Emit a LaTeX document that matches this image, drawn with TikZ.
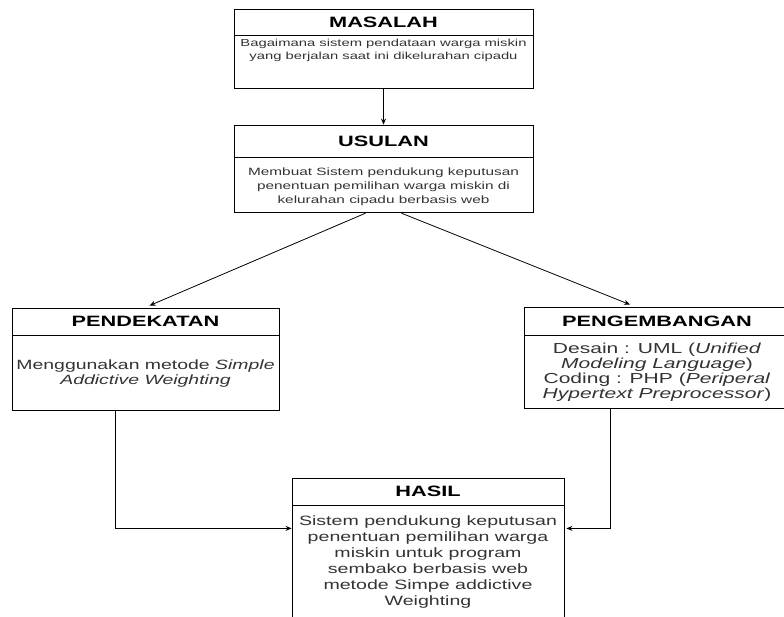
\documentclass[tikz,border=0pt]{standalone}
\usepackage{fontspec}
\setmainfont{Liberation Sans}[FakeStretch=1.45]
\usetikzlibrary{positioning,calc,arrows.meta}

\tikzset{
	head/.style={draw, inner sep=0pt, font=\bfseries\fontsize{15}{17}\selectfont},
	frame/.style={draw, inner sep=0pt},
	txt/.style={align=center, inner sep=0pt, text=black!80},
}

\begin{document}
\begin{tikzpicture}[x=1pt, y=-1pt, line width=0.8pt, >={Stealth[length=6pt, width=5pt]}]
	\useasboundingbox (0,0) rectangle (784,617);

	% masalah
	\node[head, minimum width=299, minimum height=26] (masalahHead) at (383.5, 22) {MASALAH};
	\node[frame, minimum width=299, minimum height=53, below=0pt of masalahHead] (masalah) {};
	\node[txt, font=\fontsize{10.2}{13}\selectfont, below=3pt of masalahHead] (masalahText) {Bagaimana sistem pendataan warga miskin\\yang berjalan saat ini dikelurahan cipadu};

	% usulan
	\node[head, minimum width=299, minimum height=32] (usulanHead) at (383.5, 141) {USULAN};
	\node[frame, minimum width=299, minimum height=55, below=0pt of usulanHead] (usulan) {};
	\node[txt, font=\fontsize{10.6}{14}\selectfont, below=10pt of usulanHead] (usulanText) {Membuat Sistem pendukung keputusan\\penentuan pemilihan warga miskin di\\kelurahan cipadu berbasis web};

	% pendekatan
	\node[head, minimum width=267, minimum height=27] (pendekatanHead) at (145.5, 321.5) {PENDEKATAN};
	\node[frame, minimum width=267, minimum height=75, below=0pt of pendekatanHead] (pendekatan) {};
	\node[txt, font=\fontsize{13.4}{15}\selectfont] (pendekatanText) at (pendekatan) {Menggunakan metode \textit{Simple}\\\textit{Addictive Weighting}};

	% pengembangan
	\node[head, minimum width=266, minimum height=28] (pengembanganHead) at (657, 321) {PENGEMBANGAN};
	\node[frame, minimum width=266, minimum height=73, below=0pt of pengembanganHead] (pengembangan) {};
	\node[txt, font=\fontsize{14.5}{15}\selectfont] (pengembanganText) at (pengembangan) {Desain : UML (\textit{Unified}\\\textit{Modeling Language})\\Coding : PHP (\textit{Periperal}\\\textit{Hypertext Preprocessor})};

	% hasil
	\node[head, minimum width=272, minimum height=27] (hasilHead) at (428, 491.5) {HASIL};
	\node[frame, minimum width=272, minimum height=135, below=0pt of hasilHead] (hasil) {};
	\node[txt, font=\fontsize{13.5}{16}\selectfont, below=10pt of hasilHead] (hasilText) {Sistem pendukung keputusan\\penentuan pemilihan warga\\miskin untuk program\\sembako berbasis web\\metode Simpe addictive\\Weighting};

	\draw[->] (masalah.south) -- (usulanHead.north);
	\draw[->] ($(usulan.south)+(-18,0)$) -- ($(pendekatanHead.north)+(4,-2)$);
	\draw[->] ($(usulan.south)+(18,0)$) -- ($(pengembanganHead.north)+(-27,-2)$);
	\draw[->] ($(pendekatan.south)+(-30,0)$) |- ($(hasilHead.south west)+(0,23)$);
	\draw[->] ($(pengembangan.south)+(-47,0)$) |- ($(hasilHead.south east)+(2,23)$);
\end{tikzpicture}
\end{document}
